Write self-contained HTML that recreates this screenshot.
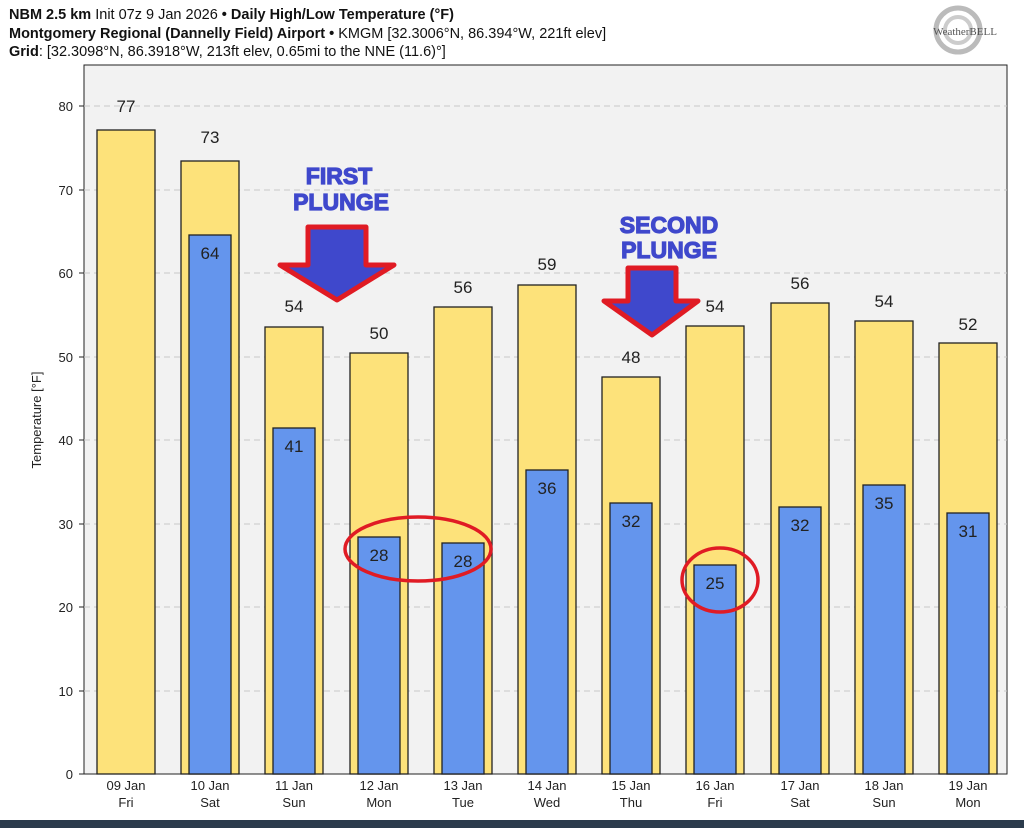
<!DOCTYPE html>
<html><head><meta charset="utf-8"><style>
body{margin:0;width:1024px;height:828px;overflow:hidden;background:#fff;font-family:"Liberation Sans",sans-serif}
</style></head><body>
<svg width="1024" height="828" xmlns="http://www.w3.org/2000/svg" font-family="Liberation Sans, DejaVu Sans, sans-serif">
<rect width="1024" height="828" fill="#fff"/>
<text x="9" y="19" font-size="14.5" fill="#111"><tspan font-weight="bold">NBM 2.5 km</tspan> Init 07z 9 Jan 2026 <tspan font-weight="bold">• Daily High/Low Temperature (°F)</tspan></text>
<text x="9" y="38" font-size="14.5" fill="#111"><tspan font-weight="bold">Montgomery Regional (Dannelly Field) Airport •</tspan> KMGM [32.3006°N, 86.394°W, 221ft elev]</text>
<text x="9" y="56" font-size="14.5" fill="#111"><tspan font-weight="bold">Grid</tspan>: [32.3098°N, 86.3918°W, 213ft elev, 0.65mi to the NNE (11.6)°]</text>
<g>
<circle cx="958" cy="30" r="22" fill="none" stroke="#bbb" stroke-width="5"/>
<circle cx="958" cy="30" r="13" fill="none" stroke="#ccc" stroke-width="4"/>
<text x="965" y="35" font-size="11" fill="#555" text-anchor="middle" font-family="Liberation Serif,serif">WeatherBELL</text>
</g>
<rect x="84" y="65" width="923" height="709" fill="#f2f2f2" stroke="#222" stroke-width="1"/>
<g stroke="#c8c8c8" stroke-dasharray="6,4" stroke-width="1">
<line x1="84" x2="1007" y1="106" y2="106"/><line x1="84" x2="1007" y1="190" y2="190"/>
<line x1="84" x2="1007" y1="273" y2="273"/><line x1="84" x2="1007" y1="357" y2="357"/>
<line x1="84" x2="1007" y1="440" y2="440"/><line x1="84" x2="1007" y1="524" y2="524"/>
<line x1="84" x2="1007" y1="607" y2="607"/><line x1="84" x2="1007" y1="691" y2="691"/>
</g>
<g font-size="13" fill="#222" text-anchor="end">
<text x="73" y="111">80</text><text x="73" y="195">70</text><text x="73" y="278">60</text><text x="73" y="362">50</text><text x="73" y="445">40</text><text x="73" y="529">30</text><text x="73" y="612">20</text><text x="73" y="696">10</text><text x="73" y="779">0</text>
</g>
<g stroke="#222"><line x1="79" x2="84" y1="106" y2="106"/><line x1="79" x2="84" y1="190" y2="190"/><line x1="79" x2="84" y1="273" y2="273"/><line x1="79" x2="84" y1="357" y2="357"/><line x1="79" x2="84" y1="440" y2="440"/><line x1="79" x2="84" y1="524" y2="524"/><line x1="79" x2="84" y1="607" y2="607"/><line x1="79" x2="84" y1="691" y2="691"/><line x1="79" x2="84" y1="774" y2="774"/></g>
<text transform="translate(41,420) rotate(-90)" font-size="13" fill="#222" text-anchor="middle">Temperature [°F]</text>
<g stroke="#222" stroke-width="1.3">
<rect x="97" y="130" width="58" height="644" fill="#fde27a"/>
<rect x="181" y="161" width="58" height="613" fill="#fde27a"/>
<rect x="265" y="327" width="58" height="447" fill="#fde27a"/>
<rect x="350" y="353" width="58" height="421" fill="#fde27a"/>
<rect x="434" y="307" width="58" height="467" fill="#fde27a"/>
<rect x="518" y="285" width="58" height="489" fill="#fde27a"/>
<rect x="602" y="377" width="58" height="397" fill="#fde27a"/>
<rect x="686" y="326" width="58" height="448" fill="#fde27a"/>
<rect x="771" y="303" width="58" height="471" fill="#fde27a"/>
<rect x="855" y="321" width="58" height="453" fill="#fde27a"/>
<rect x="939" y="343" width="58" height="431" fill="#fde27a"/>
<g fill="#6495ed">
<rect x="189" y="235" width="42" height="539"/>
<rect x="273" y="428" width="42" height="346"/>
<rect x="358" y="537" width="42" height="237"/>
<rect x="442" y="543" width="42" height="231"/>
<rect x="526" y="470" width="42" height="304"/>
<rect x="610" y="503" width="42" height="271"/>
<rect x="694" y="565" width="42" height="209"/>
<rect x="779" y="507" width="42" height="267"/>
<rect x="863" y="485" width="42" height="289"/>
<rect x="947" y="513" width="42" height="261"/>
</g></g>
<g font-size="17" fill="#222" text-anchor="middle">
<text x="126" y="112">77</text><text x="210" y="143">73</text><text x="294" y="312">54</text><text x="379" y="339">50</text><text x="463" y="293">56</text><text x="547" y="270">59</text><text x="631" y="363">48</text><text x="715" y="312">54</text><text x="800" y="289">56</text><text x="884" y="307">54</text><text x="968" y="330">52</text>
<text x="210" y="259">64</text><text x="294" y="452">41</text><text x="379" y="561">28</text><text x="463" y="567">28</text><text x="547" y="494">36</text><text x="631" y="527">32</text><text x="715" y="589">25</text><text x="800" y="531">32</text><text x="884" y="509">35</text><text x="968" y="537">31</text>
</g>
<g font-size="13" fill="#222" text-anchor="middle">
<text x="126" y="790">09 Jan</text><text x="126" y="807">Fri</text>
<text x="210" y="790">10 Jan</text><text x="210" y="807">Sat</text>
<text x="294" y="790">11 Jan</text><text x="294" y="807">Sun</text>
<text x="379" y="790">12 Jan</text><text x="379" y="807">Mon</text>
<text x="463" y="790">13 Jan</text><text x="463" y="807">Tue</text>
<text x="547" y="790">14 Jan</text><text x="547" y="807">Wed</text>
<text x="631" y="790">15 Jan</text><text x="631" y="807">Thu</text>
<text x="715" y="790">16 Jan</text><text x="715" y="807">Fri</text>
<text x="800" y="790">17 Jan</text><text x="800" y="807">Sat</text>
<text x="884" y="790">18 Jan</text><text x="884" y="807">Sun</text>
<text x="968" y="790">19 Jan</text><text x="968" y="807">Mon</text>
</g>
<g fill="#3f48cc" stroke="#e01b24" stroke-width="5" stroke-linejoin="round">
<polygon points="308,227 366,227 366,265 394,265 337,300 280,265 308,265"/>
<polygon points="628,268 676,268 676,301 698,301 652,335 604,301 628,301"/>
</g>
<g font-size="23" font-weight="bold" fill="#3f48cc" stroke="#3f48cc" stroke-width="1.2" text-anchor="middle">
<text x="339" y="184">FIRST</text><text x="341" y="210">PLUNGE</text>
<text x="669" y="233">SECOND</text><text x="669" y="258">PLUNGE</text>
</g>
<g fill="none" stroke="#e01b24" stroke-width="3.5">
<ellipse cx="418" cy="549" rx="73" ry="32"/>
<ellipse cx="720" cy="580" rx="38" ry="32"/>
</g>
<rect x="0" y="820" width="1024" height="8" fill="#2b3b4c"/>
</svg>
</body></html>
